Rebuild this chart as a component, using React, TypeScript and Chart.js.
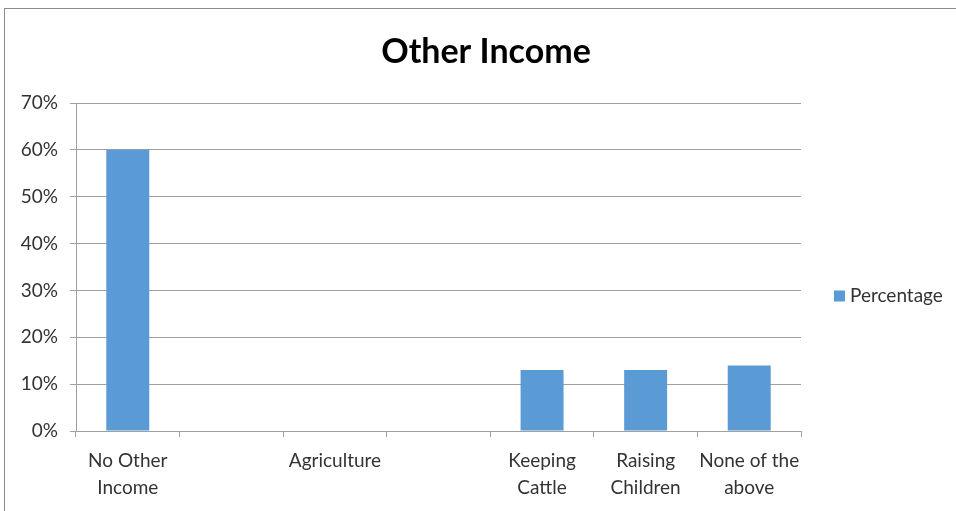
import React, { useEffect, useRef } from "react";
import { Chart, registerables } from "chart.js";

Chart.register(...registerables);

const TITLE = "Other Income";
const SERIES_LABEL = "Percentage";
const CATEGORIES: (string | string[])[] = [
  ["No Other", "Income"],
  "",
  "Agriculture",
  "",
  ["Keeping", "Cattle"],
  ["Raising", "Children"],
  ["None of the", "above"],
];
const VALUES = [60, 0, 0, 0, 13, 13, 14];
const Y_MIN = 0;
const Y_MAX = 70;
const Y_STEP = 10;

const BAR_COLOR = "#5B9BD5";
const GRID_COLOR = "#a0a0a0";
const TEXT_COLOR = "#333333";
const FONT = "Lato, 'Noto Sans', sans-serif";

const decorPlugin = {
  id: "decor",
  beforeDraw(chart: any) {
    const ctx = chart.ctx;
    ctx.save();
    ctx.fillStyle = "#ffffff";
    ctx.fillRect(0, 0, chart.width, chart.height);
    ctx.strokeStyle = "#8a8a8a";
    ctx.lineWidth = 1;
    ctx.strokeRect(4.5, 8.5, chart.width + 20, chart.height + 20);
    ctx.restore();
  },
  afterDraw(chart: any) {
    const ctx = chart.ctx;
    const area = chart.chartArea;
    ctx.save();
    // title
    ctx.fillStyle = "#000000";
    ctx.font = `bold 34px ${FONT}`;
    ctx.textAlign = "center";
    ctx.textBaseline = "middle";
    ctx.fillText(TITLE, 486, 52);
    // legend
    const ds = chart.data.datasets[0];
    const ly = (area.top + area.bottom) / 2 + 29;
    ctx.fillStyle = ds.backgroundColor;
    ctx.fillRect(834, ly - 5.5, 11, 11);
    ctx.fillStyle = TEXT_COLOR;
    ctx.font = `19px ${FONT}`;
    ctx.textAlign = "left";
    ctx.fillText(ds.label, 850, ly);
    ctx.restore();
  },
};

export default function App() {
  const ref = useRef<HTMLCanvasElement | null>(null);

  useEffect(() => {
    if (!ref.current) return;
    const chart = new Chart(ref.current, {
      type: "bar",
      data: {
        labels: CATEGORIES,
        datasets: [
          {
            label: SERIES_LABEL,
            data: VALUES,
            backgroundColor: BAR_COLOR,
            borderWidth: 0,
            categoryPercentage: 1,
            barPercentage: 0.415,
          },
        ],
      },
      options: {
        responsive: false,
        animation: false,
        layout: { padding: { top: 103, right: 155, left: 0, bottom: 0 } },
        plugins: {
          legend: { display: false },
          title: { display: false },
          tooltip: { enabled: false },
        },
        scales: {
          x: {
            afterFit: (s: any) => {
              s.height = 80;
            },
            grid: {
              offset: true,
              drawOnChartArea: false,
              drawTicks: true,
              tickLength: 6,
              color: GRID_COLOR,
            },
            border: { color: GRID_COLOR },
            ticks: {
              color: TEXT_COLOR,
              font: { family: FONT, size: 19, lineHeight: 1.42 },
              padding: 10,
              maxRotation: 0,
              autoSkip: false,
            },
          },
          y: {
            min: Y_MIN,
            max: Y_MAX,
            afterFit: (s: any) => {
              s.width = 76;
            },
            grid: {
              color: GRID_COLOR,
              drawTicks: true,
              tickLength: 6,
            },
            border: { color: GRID_COLOR },
            ticks: {
              stepSize: Y_STEP,
              color: TEXT_COLOR,
              font: { family: FONT, size: 19 },
              padding: 12,
              callback: (v: any) => `${v}%`,
            },
          },
        },
      },
      plugins: [decorPlugin],
    });
    return () => chart.destroy();
  }, []);

  return (
    <div style={{ position: "fixed", left: 0, top: 0, width: 956, height: 511, background: "#fff" }}>
      <canvas ref={ref} width={956} height={511} />
    </div>
  );
}
